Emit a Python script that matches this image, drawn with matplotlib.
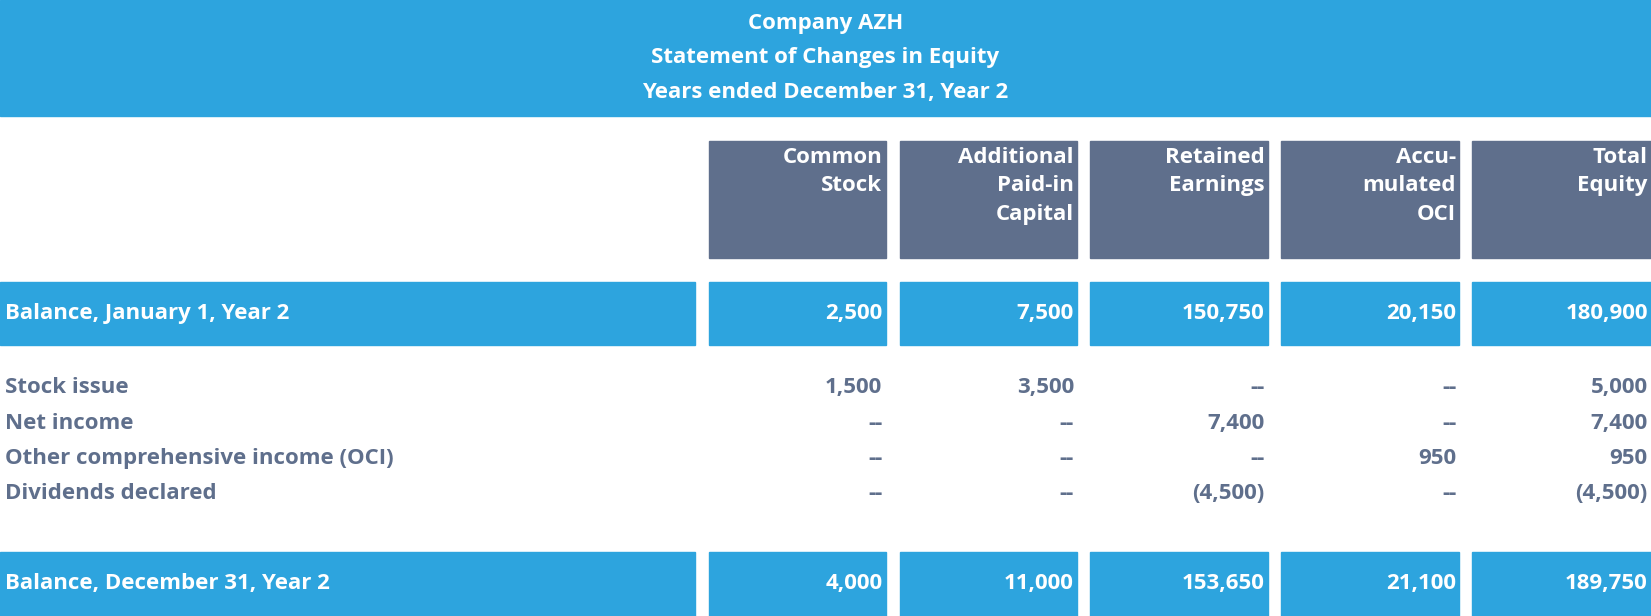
import matplotlib
matplotlib.use("Agg")
import matplotlib.pyplot as plt
from matplotlib.patches import Rectangle

title_lines = ["Company AZH", "Statement of Changes in Equity", "Years ended December 31, Year 2"]
columns = ["Common\nStock", "Additional\nPaid-in\nCapital", "Retained\nEarnings", "Accu-\nmulated\nOCI", "Total\nEquity"]
opening_label = "Balance, January 1, Year 2"
opening = ["2,500", "7,500", "150,750", "20,150", "180,900"]
row_labels = ["Stock issue", "Net income", "Other comprehensive income (OCI)", "Dividends declared"]
row_values = [
    ["1,500", "3,500", "--", "--", "5,000"],
    ["--", "--", "7,400", "--", "7,400"],
    ["--", "--", "--", "950", "950"],
    ["--", "--", "(4,500)", "--", "(4,500)"],
]
closing_label = "Balance, December 31, Year 2"
closing = ["4,000", "11,000", "153,650", "21,100", "189,750"]

BLUE = "#2DA4DE"
SLATE = "#5F6F8C"
FONT = ["Open Sans", "DejaVu Sans"]
FS = 16

fig = plt.figure(figsize=(16.51, 6.16), dpi=100)
ax = fig.add_axes([0, 0, 1, 1])
ax.set_xlim(0, 1568)
ax.set_ylim(586, 0)
ax.axis("off")

def txt(x, y, s, color, ha="left", va="center"):
    ax.text(x, y, s, color=color, ha=ha, va=va, fontsize=FS, fontweight="bold",
            family=FONT, linespacing=1.45)

ax.add_patch(Rectangle((0, 0), 1568, 110, color=BLUE))
for i, line in enumerate(title_lines):
    txt(784, 22 + 33 * i, line, "white", ha="center")

col_x = [(673, 841), (855, 1023), (1035, 1204), (1217, 1386), (1398, 1568)]
for (x0, x1), c in zip(col_x, columns):
    ax.add_patch(Rectangle((x0, 134), x1 - x0, 111, color=SLATE))
    txt(x1 - 3, 140, c, "white", ha="right", va="top")

def band(y0, y1, label, vals):
    ax.add_patch(Rectangle((0, y0), 660, y1 - y0, color=BLUE))
    txt(5, (y0 + y1) / 2, label, "white")
    for (x0, x1), v in zip(col_x, vals):
        ax.add_patch(Rectangle((x0, y0), x1 - x0, y1 - y0, color=BLUE))
        txt(x1 - 3, (y0 + y1) / 2, v, "white", ha="right")

band(268, 328, opening_label, opening)
for i, (lab, vals) in enumerate(zip(row_labels, row_values)):
    y = 369 + 33.5 * i
    txt(5, y, lab, SLATE)
    for (x0, x1), v in zip(col_x, vals):
        txt(x1 - 3, y, v, SLATE, ha="right")
band(525, 586, closing_label, closing)

fig.savefig("out.png", dpi=100)
